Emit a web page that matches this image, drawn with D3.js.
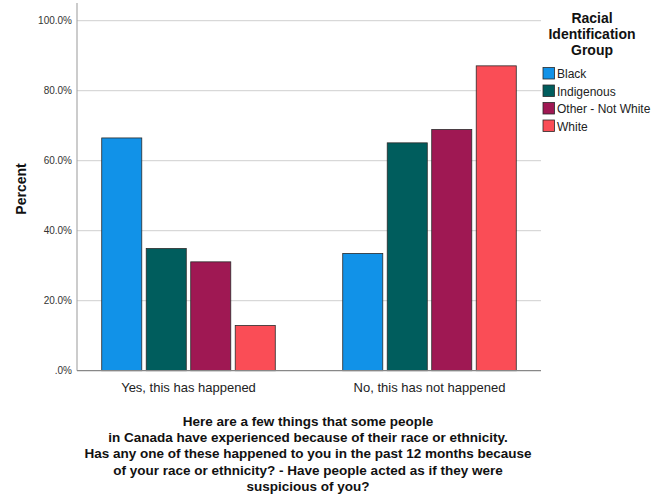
<!DOCTYPE html>
<html><head><meta charset="utf-8">
<script src="https://cdn.jsdelivr.net/npm/d3@7"></script>
<style>body{margin:0;background:#fff}svg{display:block}</style>
</head><body>
<script>
const categories = ["Yes, this has happened", "No, this has not happened"];
const groups = ["Black", "Indigenous", "Other - Not White", "White"];
const colors = ["#1192e8", "#005d5d", "#9f1853", "#fa4d56"];
const black = [66.5, 33.5];
const indigenous = [34.9, 65.1];
const otherNotWhite = [31.1, 68.9];
const white = [12.9, 87.1];
const yTicks = [0, 20, 40, 60, 80, 100];
const titleLines = ["Here are a few things that some people",
  "in Canada have experienced because of their race or ethnicity.",
  "Has any one of these happened to you in the past 12 months because",
  "of your race or ethnicity? - Have people acted as if they were",
  "suspicious of you?"];
const legendTitle = ["Racial", "Identification", "Group"];

const seriesVals = [black, indigenous, otherNotWhite, white];
const W = 657, H = 494;
const svg = d3.select("body").append("svg").attr("width", W).attr("height", H);
const font = "Liberation Sans, Arial, sans-serif";

const plotL = 77, plotR = 541, plotT = 3, plotB = 370.7;
const y = d3.scaleLinear().domain([0, 100]).range([plotB, plotB - 350]);
const x0 = d3.scaleBand().domain(categories).range([68, 550]).paddingOuter(0).paddingInner(0);
const x1 = d3.scaleBand().domain(groups).range([-89, 89]).paddingInner(0.1).paddingOuter(0.05);

// gridlines
svg.append("g").selectAll("line").data(yTicks.filter(d => d > 0)).join("line")
  .attr("x1", plotL).attr("x2", plotR).attr("y1", d => y(d)).attr("y2", d => y(d))
  .attr("stroke", "#cfcfcf").attr("stroke-width", 1);

// y axis
const yAxis = d3.axisLeft(y).tickValues(yTicks).tickSize(0).tickPadding(5)
  .tickFormat(d => d === 0 ? ".0%" : d.toFixed(1) + "%");
const ga = svg.append("g").attr("transform", `translate(${plotL},0)`).call(yAxis);
ga.select(".domain").remove();
ga.selectAll("text").attr("font-family", font).attr("font-size", 10).attr("fill", "#333");
svg.append("line").attr("x1", plotL).attr("x2", plotL).attr("y1", plotT).attr("y2", plotB)
  .attr("stroke", "#999").attr("stroke-width", 1);

// bars
const data = [];
categories.forEach((c, i) => groups.forEach((g, j) => data.push({c, g, j, v: seriesVals[j][i]})));
svg.append("g").selectAll("rect").data(data).join("rect")
  .attr("x", d => x0(d.c) + x0.bandwidth() / 2 + x1(d.g))
  .attr("width", x1.bandwidth())
  .attr("y", d => y(d.v))
  .attr("height", d => plotB - y(d.v))
  .attr("fill", d => colors[d.j])
  .attr("stroke", "#2a2a2a").attr("stroke-width", 0.8);

// baseline
svg.append("line").attr("x1", plotL).attr("x2", plotR).attr("y1", plotB).attr("y2", plotB)
  .attr("stroke", "#888").attr("stroke-width", 1.2);

// x labels
const xAxis = d3.axisBottom(x0).tickSize(0).tickPadding(12);
const gx = svg.append("g").attr("transform", `translate(0,${plotB})`).call(xAxis);
gx.select(".domain").remove();
gx.selectAll("text").attr("font-family", font).attr("font-size", 13).attr("fill", "#222");

// y label
svg.append("text").attr("transform", "translate(26,189) rotate(-90)")
  .attr("text-anchor", "middle").attr("font-family", font).attr("font-size", 14)
  .attr("font-weight", "bold").attr("fill", "#111").text("Percent");

// title
svg.append("g").selectAll("text").data(titleLines).join("text")
  .attr("x", 308).attr("y", (d, i) => 426 + i * 16.2)
  .attr("text-anchor", "middle").attr("font-family", font).attr("font-size", 13.5)
  .attr("font-weight", "bold").attr("fill", "#111").text(d => d);

// legend
svg.append("g").selectAll("text").data(legendTitle).join("text")
  .attr("x", 592).attr("y", (d, i) => 23 + i * 16)
  .attr("text-anchor", "middle").attr("font-family", font).attr("font-size", 14)
  .attr("font-weight", "bold").attr("fill", "#111").text(d => d);
const lg = svg.append("g").selectAll("g").data(groups).join("g")
  .attr("transform", (d, i) => `translate(543,${67.5 + i * 17.5})`);
lg.append("rect").attr("width", 11.5).attr("height", 11.5)
  .attr("fill", (d, i) => colors[i]).attr("stroke", "#2a2a2a").attr("stroke-width", 0.8);
lg.append("text").attr("x", 14).attr("y", 10.5).attr("font-family", font).attr("font-size", 12)
  .attr("fill", "#222").text(d => d);
</script>
</body></html>
